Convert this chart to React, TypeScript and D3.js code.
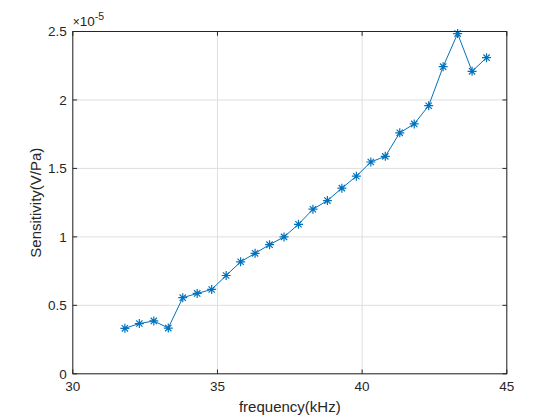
import * as d3 from "d3";
import React from "react";

// frequency (kHz) and measured sensitivity (x 1e-5 V/Pa)
const frequency = [
  31.8, 32.3, 32.8, 33.3, 33.8, 34.3, 34.8, 35.3, 35.8, 36.3, 36.8, 37.3, 37.8,
  38.3, 38.8, 39.3, 39.8, 40.3, 40.8, 41.3, 41.8, 42.3, 42.8, 43.3, 43.8, 44.3,
];
const sensitivity = [
  0.332, 0.367, 0.386, 0.334, 0.556, 0.587, 0.616, 0.718, 0.818, 0.88, 0.943,
  1.0, 1.092, 1.202, 1.265, 1.356, 1.443, 1.547, 1.588, 1.76, 1.825, 1.958,
  2.243, 2.485, 2.209, 2.309,
];
const xTicks = [30, 35, 40, 45];
const yTicks = [0, 0.5, 1, 1.5, 2, 2.5];

const W = 560;
const H = 420;
const margin = { left: 72.8, right: 53.2, top: 31.5, bottom: 46.2 };
const FONT = "'Liberation Sans', Arial, Helvetica, sans-serif";
const AXIS = "#262626";
const BLUE = "#0072BD";

export default function App() {
  const x = d3.scaleLinear().domain([30, 45]).range([margin.left, W - margin.right]);
  const y = d3.scaleLinear().domain([0, 2.5]).range([H - margin.bottom, margin.top]);
  const [x0, x1] = x.range();
  const [y0, y1] = y.range();
  const tick = 4.3;

  const line = d3
    .line<number>()
    .x((_, i) => x(frequency[i]))
    .y((d) => y(d));

  // MATLAB-style '*' marker
  const star = (cx: number, cy: number, r: number) =>
    `M${cx - r},${cy}L${cx + r},${cy}M${cx},${cy - r}L${cx},${cy + r}` +
    `M${cx - r * 0.7},${cy - r * 0.7}L${cx + r * 0.7},${cy + r * 0.7}` +
    `M${cx - r * 0.7},${cy + r * 0.7}L${cx + r * 0.7},${cy - r * 0.7}`;

  return (
    <svg
      width={W}
      height={H}
      style={{ position: "fixed", left: 0, top: 0, background: "#fff" }}
      fontFamily={FONT}
    >
      <rect x={0} y={0} width={W} height={H} fill="#fff" />
      {/* grid */}
      <g stroke="#dfdfdf" strokeWidth={1}>
        {xTicks.map((t) => (
          <line key={"gx" + t} x1={x(t)} x2={x(t)} y1={y0} y2={y1} />
        ))}
        {yTicks.map((t) => (
          <line key={"gy" + t} x1={x0} x2={x1} y1={y(t)} y2={y(t)} />
        ))}
      </g>
      {/* data */}
      <path d={line(sensitivity) ?? ""} fill="none" stroke={BLUE} strokeWidth={1} />
      <g stroke={BLUE} strokeWidth={1.2}>
        {sensitivity.map((v, i) => (
          <path key={i} d={star(x(frequency[i]), y(v), 4.5)} />
        ))}
      </g>
      {/* box and ticks */}
      <rect x={x0} y={y1} width={x1 - x0} height={y0 - y1} fill="none" stroke={AXIS} strokeWidth={1} />
      <g stroke={AXIS} strokeWidth={1}>
        {xTicks.map((t) => (
          <g key={"tx" + t}>
            <line x1={x(t)} x2={x(t)} y1={y0} y2={y0 - tick} />
            <line x1={x(t)} x2={x(t)} y1={y1} y2={y1 + tick} />
          </g>
        ))}
        {yTicks.map((t) => (
          <g key={"ty" + t}>
            <line x1={x0} x2={x0 + tick} y1={y(t)} y2={y(t)} />
            <line x1={x1} x2={x1 - tick} y1={y(t)} y2={y(t)} />
          </g>
        ))}
      </g>
      {/* tick labels */}
      <g fill={AXIS} fontSize={13.5}>
        {xTicks.map((t) => (
          <text key={"lx" + t} x={x(t)} y={y0 + 17} textAnchor="middle">
            {d3.format("")(t)}
          </text>
        ))}
        {yTicks.map((t) => (
          <text key={"ly" + t} x={x0 - 6} y={y(t) + 4.8} textAnchor="end">
            {d3.format("")(t)}
          </text>
        ))}
        <text x={x0} y={y1 - 6}>
          <tspan fontSize={12}>×</tspan>
          <tspan>10</tspan>
          <tspan fontSize={10.5} dy={-6}>-5</tspan>
        </text>
      </g>
      {/* axis labels */}
      <text x={(x0 + x1) / 2} y={H - 8} textAnchor="middle" fontSize={15} fill={AXIS}>
        frequency(kHz)
      </text>
      <text
        transform={`translate(${41},${(y0 + y1) / 2}) rotate(-90)`}
        textAnchor="middle"
        fontSize={15}
        fill={AXIS}
      >
        Sensitivity(V/Pa)
      </text>
    </svg>
  );
}
